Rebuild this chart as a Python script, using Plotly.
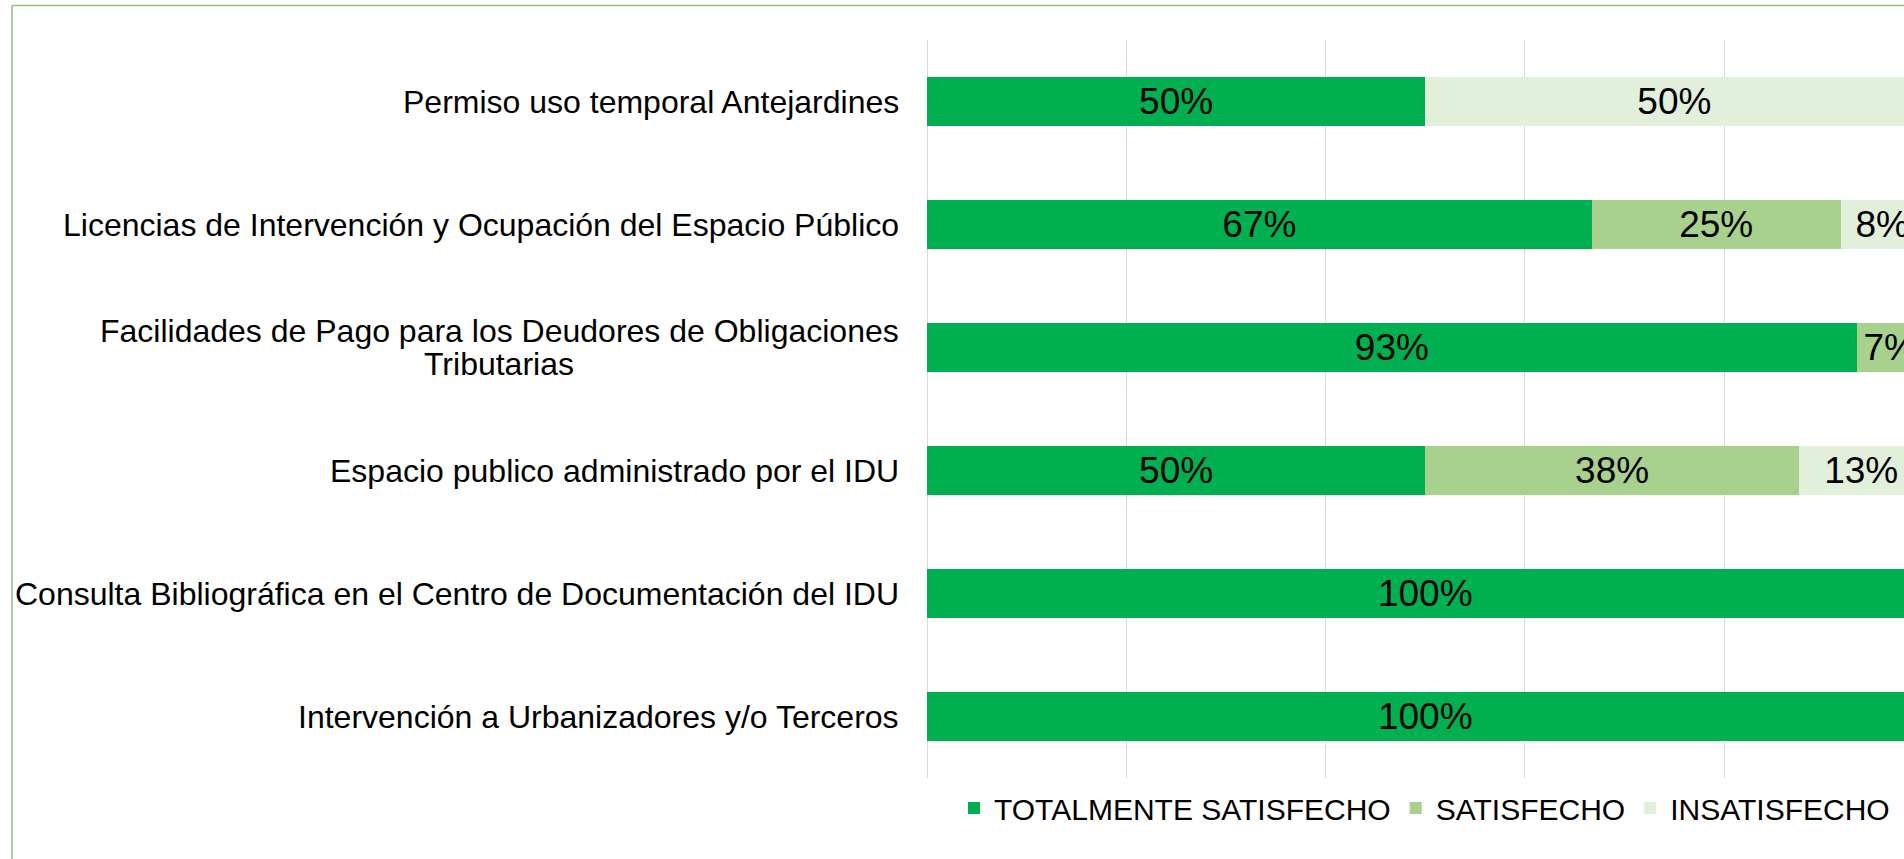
import plotly.graph_objects as go

# ---- data ----
categories = [
    "Permiso uso temporal Antejardines",
    "Licencias de Intervención y Ocupación del Espacio Público",
    "Facilidades de Pago para los Deudores de Obligaciones Tributarias",
    "Espacio publico administrado por el IDU",
    "Consulta Bibliográfica en el Centro de Documentación del IDU",
    "Intervención a Urbanizadores y/o Terceros",
]
# how each category label is wrapped (lines)
label_lines = [
    ["Permiso uso temporal Antejardines"],
    ["Licencias de Intervención y Ocupación del Espacio Público"],
    ["Facilidades de Pago para los Deudores de Obligaciones", "Tributarias"],
    ["Espacio publico administrado por el IDU"],
    ["Consulta Bibliográfica en el Centro de Documentación del IDU"],
    ["Intervención a Urbanizadores y/o Terceros"],
]
series_names = ["TOTALMENTE SATISFECHO", "SATISFECHO", "INSATISFECHO"]
totalmente = [0.5, 0.667, 0.933, 0.5, 1.0, 1.0]
satisfecho = [0.0, 0.25, 0.067, 0.375, 0.0, 0.0]
insatisfecho = [0.5, 0.083, 0.0, 0.125, 0.0, 0.0]
colors = ["#00B050", "#A9D18E", "#E2EFDA"]

# ---- layout geometry ----
W, H = 1904, 859
ML, MR, MT, MB = 927, 0, 40, 81
plot_w = W - ML - MR
plot_h = H - MT - MB
full_axis_px = 996.5  # pixel length of 0..100% in the original (cropped) chart
x_max = plot_w / full_axis_px

FONT = "Liberation Sans, Arial, sans-serif"
LABEL_SIZE = 32
LINE_H = 33


def pct_labels(vals):
    return [f"{int(v * 100 + 0.5)}%" if v > 0 else "" for v in vals]


fig = go.Figure()
for name, vals, col in zip(series_names, [totalmente, satisfecho, insatisfecho], colors):
    fig.add_trace(go.Bar(
        name=name,
        y=categories,
        x=vals,
        orientation="h",
        marker=dict(color=col, line=dict(width=0)),
        text=pct_labels(vals),
        textposition="inside",
        insidetextanchor="middle",
        constraintext="none",
        textfont=dict(family=FONT, size=37, color="#000000"),
        hoverinfo="skip",
    ))

# category labels as annotations; wrapped lines: first line right-aligned,
# following lines centred under it (as in the original)
for cat, lines in zip(categories, label_lines):
    n = len(lines)
    for i, line in enumerate(lines):
        yshift = ((n - 1) / 2 - i) * LINE_H
        if i == 0:
            xshift = -26
        else:
            xshift = -351
        fig.add_annotation(
            x=0, xref="paper", y=cat, yref="y",
            text=line, showarrow=False,
            xanchor="right", yanchor="middle",
            xshift=xshift, yshift=yshift,
            font=dict(family=FONT, size=LABEL_SIZE, color="#000000"),
        )

# outer chart border (light green), cropped on the right and bottom
def px_x(px):
    return (px - ML) / plot_w


def px_y(py):
    return (H - MB - py) / plot_h


border_color = "#9BBB7A"
fig.add_shape(type="line", xref="paper", yref="paper",
              x0=px_x(12), x1=px_x(12), y0=px_y(5.5), y1=px_y(H + 20),
              line=dict(color=border_color, width=1.5))
fig.add_shape(type="line", xref="paper", yref="paper",
              x0=px_x(12), x1=px_x(W + 20), y0=px_y(5.5), y1=px_y(5.5),
              line=dict(color=border_color, width=1.5))

fig.update_layout(
    width=W, height=H,
    margin=dict(l=ML, r=MR, t=MT, b=MB, pad=0),
    barmode="stack",
    bargap=0.6,
    plot_bgcolor="#FFFFFF",
    paper_bgcolor="#FFFFFF",
    font=dict(family=FONT, color="#000000"),
    showlegend=True,
    legend=dict(
        orientation="h",
        xref="container", yref="container",
        x=954 / W, xanchor="left",
        y=1 - 808 / H, yanchor="middle",
        font=dict(family=FONT, size=30, color="#000000"),
        bgcolor="rgba(0,0,0,0)",
        itemclick=False, itemdoubleclick=False,
        traceorder="normal",
    ),
    xaxis=dict(
        range=[0, x_max],
        dtick=0.2, tick0=0,
        showgrid=True, gridcolor="#D9D9D9", gridwidth=1,
        zeroline=True, zerolinecolor="#D9D9D9", zerolinewidth=1,
        showticklabels=False, showline=False, ticks="",
        fixedrange=True,
    ),
    yaxis=dict(
        autorange="reversed",
        showticklabels=False, showgrid=False, zeroline=False,
        showline=False, ticks="",
        fixedrange=True,
    ),
)

fig.write_html(
    "out.html",
    config={"displayModeBar": False},
    post_script="document.body.style.margin='0px';document.body.style.overflow='hidden';",
)
